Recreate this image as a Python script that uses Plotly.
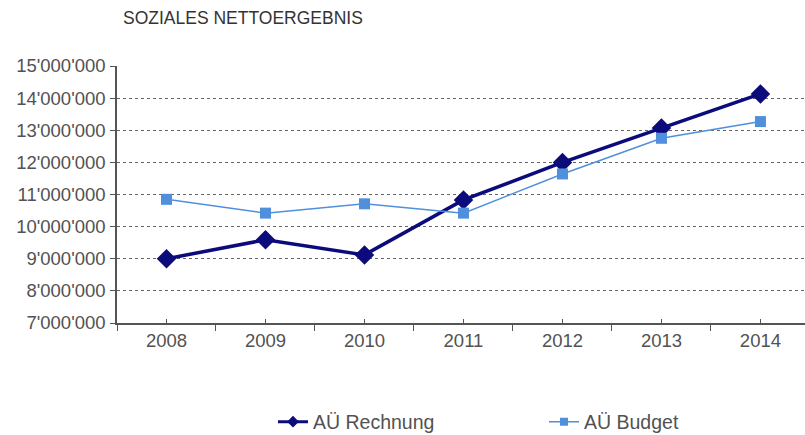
import plotly.graph_objects as go

years = ["2008", "2009", "2010", "2011", "2012", "2013", "2014"]
rechnung = [9000000, 9590000, 9120000, 10830000, 12000000, 13070000, 14130000]
budget = [10850000, 10420000, 10710000, 10420000, 11640000, 12750000, 13270000]
y_ticks = [7000000 + i * 1000000 for i in range(9)]
y_tick_text = [f"{v:,}".replace(",", "'") for v in y_ticks]

font_family = "Liberation Sans, Arial, sans-serif"
text_grey = "#525252"
navy = "#0b0b7c"
light_blue = "#4f8fdc"

fig = go.Figure()
fig.add_trace(go.Scatter(
    x=years, y=rechnung, name="AÜ Rechnung", mode="lines+markers",
    line=dict(color=navy, width=3.5),
    marker=dict(symbol="diamond", size=15, color=navy),
    showlegend=False,
))
fig.add_trace(go.Scatter(
    x=years, y=budget, name="AÜ Budget", mode="lines+markers",
    line=dict(color=light_blue, width=1.5),
    marker=dict(symbol="square", size=11, color=light_blue),
    showlegend=False,
))
# legend entries with smaller symbols
fig.add_trace(go.Scatter(
    x=[None], y=[None], name="AÜ Rechnung", mode="lines+markers",
    line=dict(color=navy, width=3), marker=dict(symbol="diamond", size=9, color=navy),
    legend="legend",
))
fig.add_trace(go.Scatter(
    x=[None], y=[None], name="AÜ Budget", mode="lines+markers",
    line=dict(color=light_blue, width=1.5), marker=dict(symbol="square", size=8, color=light_blue),
    legend="legend2",
))
# inner tick marks at category centres
fig.add_trace(go.Scatter(
    x=years, y=rechnung, xaxis="x2", mode="markers",
    marker=dict(opacity=0), hoverinfo="skip", showlegend=False,
))

plot_h = 257
legend_y = (323 - 422) / plot_h
legend_font = dict(size=19.5, color=text_grey, family=font_family)

fig.update_layout(
    width=805, height=435,
    margin=dict(l=117, r=0, t=66, b=112, autoexpand=False),
    plot_bgcolor="white", paper_bgcolor="white",
    font=dict(family=font_family, color=text_grey, size=18),
    showlegend=True,
    legend=dict(x=(273 - 117) / 688, xanchor="left", y=legend_y, yanchor="middle",
                font=legend_font, bgcolor="rgba(0,0,0,0)"),
    legend2=dict(x=(544 - 117) / 688, xanchor="left", y=legend_y, yanchor="middle",
                 font=legend_font, bgcolor="rgba(0,0,0,0)"),
    annotations=[dict(
        text="SOZIALES NETTOERGEBNIS", xref="paper", yref="paper",
        x=(121 - 117) / 688, y=(323 - 18) / plot_h, xanchor="left", yanchor="middle",
        showarrow=False, font=dict(size=17.5, color="#333333", family=font_family),
    )],
    xaxis=dict(
        type="category", range=[-0.5, 6.45],
        showline=True, linecolor="#555555", linewidth=1.5,
        ticks="outside", ticklen=6, tickcolor="#555555", tickson="boundaries",
        showgrid=False, tickfont=dict(size=18.5, color=text_grey),
    ),
    xaxis2=dict(
        type="category", range=[-0.5, 6.45], overlaying="x", side="bottom",
        anchor="y", showline=False, showgrid=False, ticks="inside", ticklen=4,
        tickcolor="#555555", showticklabels=False, zeroline=False,
    ),
    yaxis=dict(
        range=[7000000, 15000000], tickvals=y_ticks, ticktext=y_tick_text,
        showline=True, linecolor="#555555", linewidth=1.5,
        ticks="outside", ticklen=5, tickcolor="#555555", ticklabelstandoff=1,
        showgrid=True, gridcolor="#666666", gridwidth=1, griddash="dot",
        zeroline=False, tickfont=dict(size=18.5, color=text_grey),
    ),
)

fig.write_html("out.html")
